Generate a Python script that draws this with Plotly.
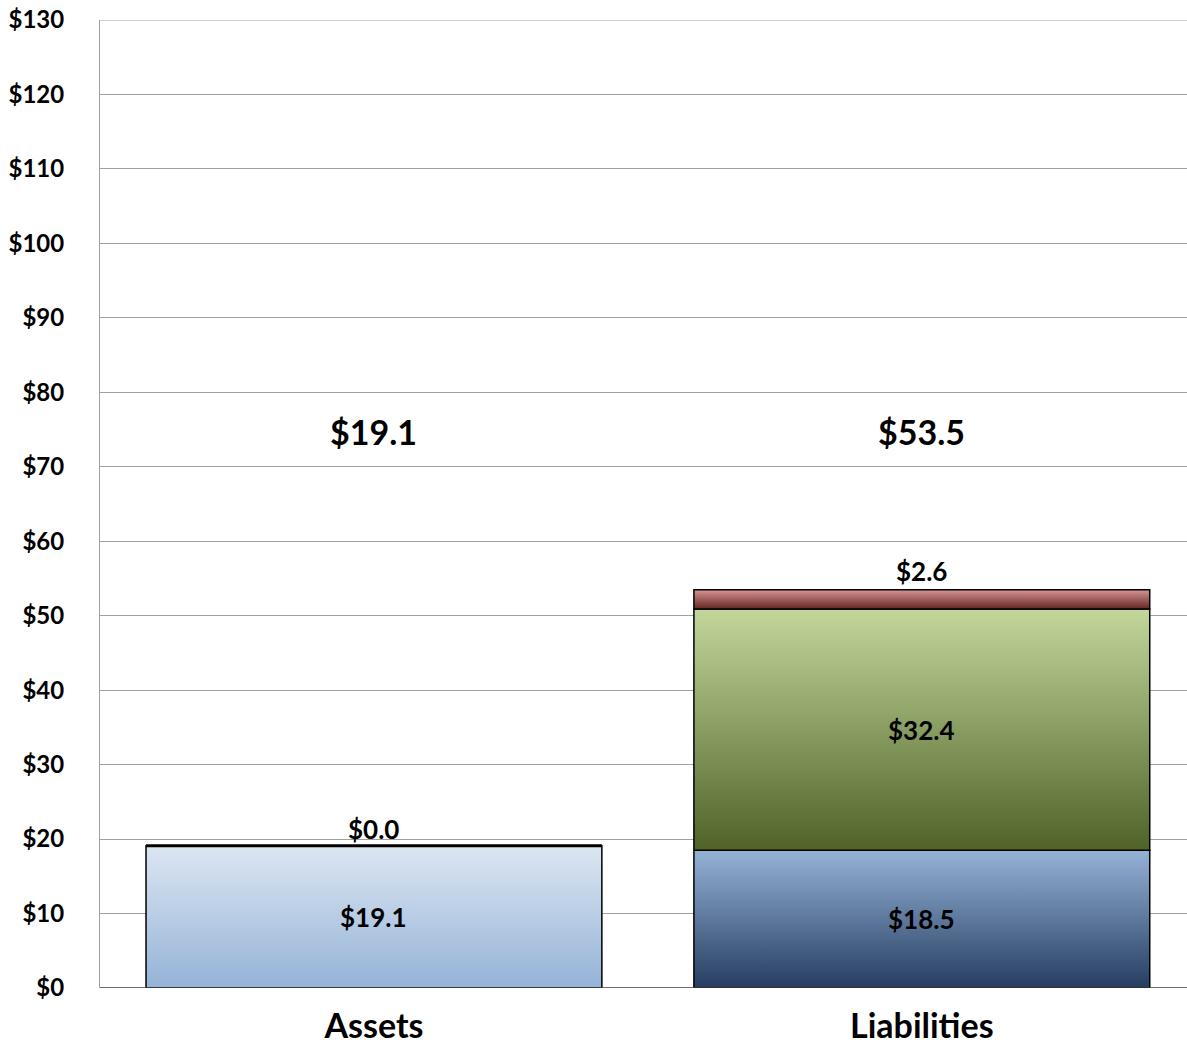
import plotly.graph_objects as go

categories = ["Assets", "Liabilities"]
# stacked segments per category (bottom to top)
assets_main = [19.1]
assets_top = [0.0]
liab_blue = [18.5]
liab_green = [32.4]
liab_red = [2.6]
totals = [19.1, 53.5]
y_ticks = [0, 10, 20, 30, 40, 50, 60, 70, 80, 90, 100, 110, 120, 130]

FONT = "Lato"
BAR_W = 0.832
HALF = BAR_W / 2

fig = go.Figure()

def seg(xc, base, val, top_col, bot_col):
    x0, x1 = xc - HALF, xc + HALF
    y0, y1 = base, base + val
    fig.add_trace(go.Scatter(
        x=[x0, x1, x1, x0, x0], y=[y0, y0, y1, y1, y0],
        mode="lines", fill="toself",
        line=dict(color="#000000", width=1.5),
        fillgradient=dict(type="vertical", start=y0, stop=y1,
                          colorscale=[[0, bot_col], [1, top_col]]),
        hoverinfo="skip", showlegend=False))

# Assets
seg(0, 0, assets_main[0], "#dce6f2", "#95b3d7")
fig.add_trace(go.Scatter(x=[0 - HALF, 0 + HALF], y=[assets_main[0] + assets_top[0]] * 2,
                         mode="lines", line=dict(color="#000000", width=3),
                         hoverinfo="skip", showlegend=False))
# Liabilities
b = 0
seg(1, b, liab_blue[0], "#95b3d7", "#253d60")
b += liab_blue[0]
seg(1, b, liab_green[0], "#c3d69b", "#4f6228")
b += liab_green[0]
seg(1, b, liab_red[0], "#d99694", "#632523")

# segment labels
seg_labels = [
    (0, assets_main[0] / 2, assets_main[0]),
    (0, assets_main[0] + 2.3, assets_top[0]),
    (1, liab_blue[0] / 2, liab_blue[0]),
    (1, liab_blue[0] + liab_green[0] / 2, liab_green[0]),
    (1, liab_blue[0] + liab_green[0] + liab_red[0] + 2.5, liab_red[0]),
]
for xc, yc, v in seg_labels:
    fig.add_annotation(x=xc, y=yc, text=f"${v:.1f}", showarrow=False,
                       font=dict(family=FONT, size=26, color="#000000", weight="bold"))
for i, t in enumerate(totals):
    fig.add_annotation(x=i, y=74.7, text=f"${t:.1f}", showarrow=False,
                       font=dict(family=FONT, size=34, color="#000000", weight="bold"))

fig.update_layout(
    width=1187, height=1044,
    margin=dict(l=100, r=0, t=20, b=56, autoexpand=False),
    paper_bgcolor="white", plot_bgcolor="white",
    font=dict(family=FONT, color="#000000"),
    showlegend=False,
)
fig.update_xaxes(range=[-0.5, 1.484], tickvals=[0, 1], ticktext=categories,
                 tickfont=dict(family=FONT, size=34, color="#000000", weight="bold"),
                 showgrid=False, zeroline=False, showline=False, ticks="", ticklen=0,
                 ticklabelstandoff=15, automargin=False)
fig.update_yaxes(range=[0, 130], tickvals=y_ticks,
                 ticktext=[f"${v}" for v in y_ticks],
                 tickfont=dict(family=FONT, size=24, color="#000000", weight="bold"),
                 showgrid=True, gridcolor="#a0a0a0", gridwidth=1,
                 zeroline=False, showline=True, linecolor="#a0a0a0", linewidth=1,
                 ticks="", ticklabelstandoff=30, ticklabeloverflow="allow",
                 automargin=False)
fig.add_hline(y=y_ticks[-1], line=dict(color="#a0a0a0", width=1))
fig.add_hline(y=0, line=dict(color="#404040", width=1.5))

fig.write_html("out.html", config={"displayModeBar": False},
               post_script="document.body.style.margin='0';document.body.style.overflow='hidden';")
